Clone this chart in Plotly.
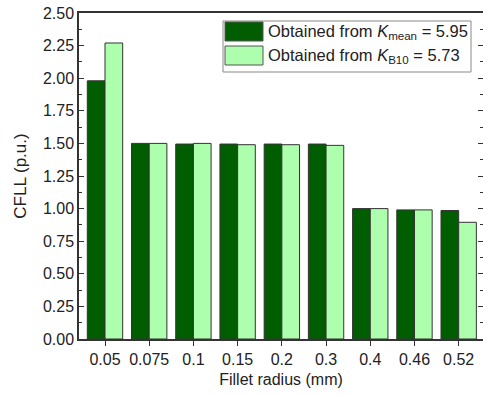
import plotly.graph_objects as go

categories = ["0.05", "0.075", "0.1", "0.15", "0.2", "0.3", "0.4", "0.46", "0.52"]
k_mean_values = [1.98, 1.50, 1.495, 1.495, 1.495, 1.495, 1.00, 0.99, 0.985]
k_b10_values = [2.27, 1.50, 1.50, 1.49, 1.49, 1.485, 1.00, 0.99, 0.895]
series_names = ["Obtained from <i>K</i><sub>mean</sub> = 5.95",
                "Obtained from <i>K</i><sub>B10</sub> = 5.73"]
colors = ["#005E00", "#ADFFAD"]

W, H = 483, 395
L, R, T, B = 79, 0, 13, 56
FONT = "Arial, Liberation Sans, sans-serif"

fig = go.Figure()
for vals, c, n in zip([k_mean_values, k_b10_values], colors, series_names):
    fig.add_trace(go.Bar(x=categories, y=vals, name=n, marker_color=c,
                         marker_line=dict(color="#333333", width=1), showlegend=False))

pw, ph = W - L - R, H - T - B
def px(x): return (x - L) / pw
def py(y): return (H - B - y) / ph

shapes = [dict(type="rect", xref="paper", yref="paper", x0=px(223), x1=px(471), y0=py(72), y1=py(21),
               line=dict(color="#888888", width=1), fillcolor="white", layer="above")]
annotations = []
for i, (c, n) in enumerate(zip(colors, series_names)):
    y0, y1 = (22, 41) if i == 0 else (46, 65)
    shapes.append(dict(type="rect", xref="paper", yref="paper", x0=px(225), x1=px(263), y0=py(y1), y1=py(y0),
                       line=dict(color="#555555", width=1), fillcolor=c, layer="above"))
    annotations.append(dict(xref="paper", yref="paper", x=px(266), y=py((y0 + y1) / 2), text=n,
                            showarrow=False, xanchor="left", yanchor="middle",
                            font=dict(family=FONT, size=16.5, color="#222222")))

ticks_y = [0, 0.25, 0.5, 0.75, 1.0, 1.25, 1.5, 1.75, 2.0, 2.25, 2.5]
fig.update_layout(
    width=W, height=H, margin=dict(l=L, r=R, t=T, b=B),
    paper_bgcolor="white", plot_bgcolor="white",
    barmode="group", bargap=0.2, bargroupgap=0,
    font=dict(family=FONT, size=16, color="#222222"),
    shapes=shapes, annotations=annotations,
    xaxis=dict(range=[-0.588, 8.55], showline=True, linecolor="#333333", linewidth=1.5, mirror=True,
               ticks="outside", ticklen=5, tickwidth=1.2, tickcolor="#333333",
               title=dict(text="Fillet radius (mm)", standoff=7, font=dict(size=16)),
               showgrid=False, tickfont=dict(size=16)),
    yaxis=dict(range=[0, 2.5], tickvals=ticks_y,
               tickformat=".2f", showline=True, linecolor="#333333", linewidth=1.5,
               ticks="inside", ticklen=5, tickwidth=1.2, tickcolor="#333333",
               minor=dict(ticks="inside", ticklen=3, dtick=0.125, tickcolor="#333333"),
               showgrid=False, zeroline=False,
               title=dict(text="CFLL (p.u.)", standoff=12, font=dict(size=17)),
               tickfont=dict(size=16)),
    yaxis2=dict(overlaying="y", side="right", matches="y", range=[0, 2.5], showline=False,
                showticklabels=False, ticks="inside", ticklen=5, tickwidth=1.2, tickcolor="#333333",
                tickvals=ticks_y,
                minor=dict(ticks="inside", ticklen=3, dtick=0.125, tickcolor="#333333"),
                showgrid=False, zeroline=False),
)
fig.add_trace(go.Scatter(x=[categories[0]], y=[0], yaxis="y2", mode="markers",
                         marker=dict(opacity=0), showlegend=False, hoverinfo="skip"))
fig.write_html("out.html", config={"displayModeBar": False},
               post_script="document.body.style.margin='0px';document.body.style.overflow='hidden';")
